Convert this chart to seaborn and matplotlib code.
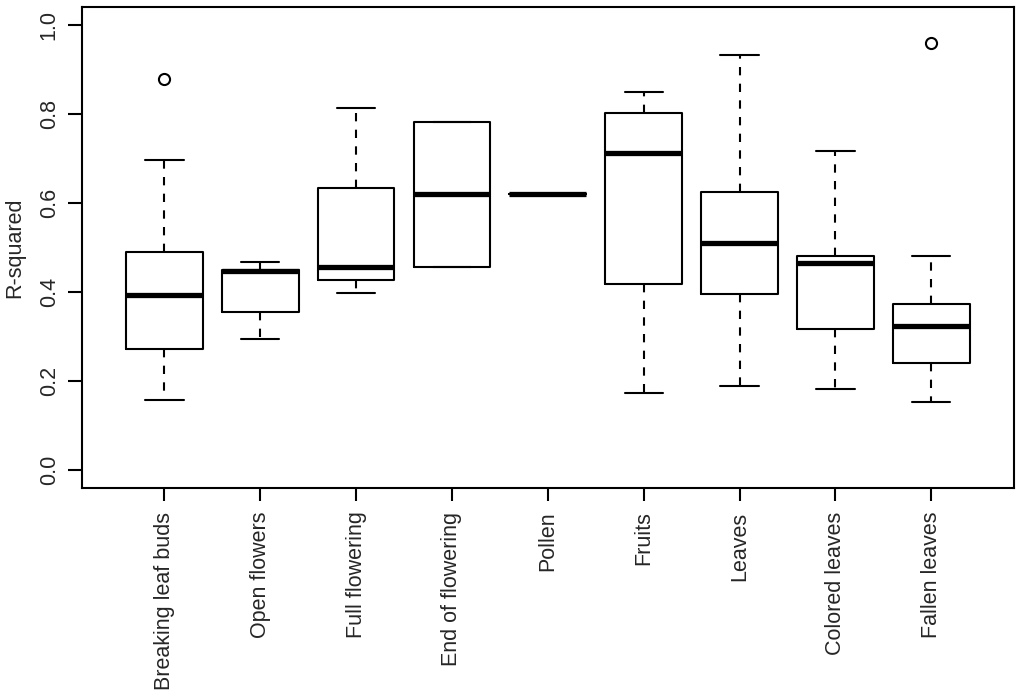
import seaborn as sns
import matplotlib
matplotlib.use("Agg")
import matplotlib.pyplot as plt

# ---------------- DATA (five-number summaries) ----------------
categories = ["Breaking leaf buds", "Open flowers", "Full flowering", "End of flowering",
              "Pollen", "Fruits", "Leaves", "Colored leaves", "Fallen leaves"]
whisk_lo = [0.157, 0.294, 0.398, 0.456, 0.621, 0.172, 0.189, 0.181, 0.154]
q1       = [0.273, 0.354, 0.427, 0.456, 0.621, 0.419, 0.396, 0.316, 0.240]
median   = [0.393, 0.446, 0.456, 0.619, 0.621, 0.711, 0.510, 0.464, 0.324]
q3       = [0.489, 0.449, 0.634, 0.781, 0.621, 0.802, 0.625, 0.481, 0.373]
whisk_hi = [0.696, 0.467, 0.813, 0.781, 0.621, 0.849, 0.932, 0.717, 0.480]
outliers = [[0.878], [], [], [], [], [], [], [], [0.958]]

# ---------------- STYLE ----------------
sns.set_theme(style="white")
plt.rcParams["font.family"] = ["Liberation Sans", "DejaVu Sans"]
plt.rcParams["axes.edgecolor"] = "black"
plt.rcParams["axes.linewidth"] = 1.5

stats = [dict(label=c, whislo=lo, q1=a, med=m, q3=b, whishi=hi, fliers=f)
         for c, lo, a, m, b, hi, f in zip(categories, whisk_lo, q1, median, q3, whisk_hi, outliers)]

fig = plt.figure(figsize=(10.24, 6.98), dpi=100)
ax = fig.add_axes([0.080, 0.301, 0.910, 0.689])

ax.bxp(stats, positions=range(1, len(categories) + 1), widths=0.8,
       boxprops=dict(color="black", linewidth=1.5),
       medianprops=dict(color="black", linewidth=3.8, solid_capstyle="butt"),
       whiskerprops=dict(color="black", linewidth=1.5, linestyle=(0, (4, 4))),
       capprops=dict(color="black", linewidth=1.5),
       flierprops=dict(marker="o", markerfacecolor="none", markeredgecolor="black",
                       markersize=8, markeredgewidth=1.5))

ax.set_xlim(0.14, 9.86)
ax.set_ylim(-0.04, 1.04)
ax.set_xticks(range(1, len(categories) + 1))
ax.set_xticklabels(categories, rotation=90, fontsize=15.5)
ax.set_yticks([0.0, 0.2, 0.4, 0.6, 0.8, 1.0])
ax.set_yticklabels(["0.0", "0.2", "0.4", "0.6", "0.8", "1.0"], rotation=90, va="center", fontsize=15.5)
ax.tick_params(axis="y", length=10, width=1.5, color="black", pad=6, left=True)
ax.tick_params(axis="x", length=9, width=1.5, color="black", pad=8, bottom=True)
ax.set_ylabel("R-squared", fontsize=15.5, labelpad=10)

for s in ax.spines.values():
    s.set_color("black")
    s.set_linewidth(1.5)

fig.savefig("out.png", dpi=100)
